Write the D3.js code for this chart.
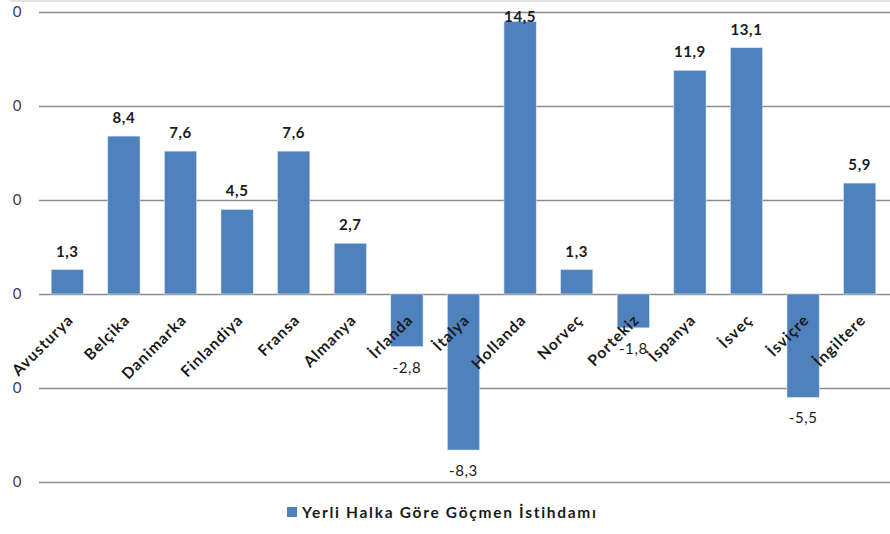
<!DOCTYPE html>
<html>
<head>
<meta charset="utf-8">
<script src="https://cdn.jsdelivr.net/npm/d3@7"></script>
<style>
  body { margin: 0; background: #fff; }
  svg { display: block; font-family: Lato, "Open Sans", sans-serif; }
</style>
</head>
<body>
<svg id="chart" width="890" height="534"></svg>
<script>
// data
var categories = ["Avusturya", "Belçika", "Danimarka", "Finlandiya", "Fransa", "Almanya", "İrlanda",
    "İtalya", "Hollanda", "Norveç", "Portekiz", "İspanya", "İsveç", "İsviçre", "İngiltere"];
var values = [1.3, 8.4, 7.6, 4.5, 7.6, 2.7, -2.8, -8.3, 14.5, 1.3, -1.8, 11.9, 13.1, -5.5, 5.9];
var yTicks = [15, 10, 5, 0, -5, -10];
var seriesName = "Yerli Halka Göre Göçmen İstihdamı";

var svg = d3.select("#chart"),
    width = +svg.attr("width"),
    height = +svg.attr("height");

var tr = d3.formatLocale({ decimal: ",", thousands: ".", grouping: [3], currency: ["", ""], minus: "-" });
var fmt = tr.format(".1f");

var x = d3.scaleBand()
    .domain(categories)
    .range([39, 888])
    .paddingInner(0.43)
    .paddingOuter(0.215);

var y = d3.scaleLinear()
    .domain([-10, 15])
    .range([482, 12]);

// outer border (cut off in the picture)
svg.append("line")
    .attr("x1", 10).attr("x2", width)
    .attr("y1", 1).attr("y2", 1)
    .attr("stroke", "#c8c8c8");

// gridlines
svg.append("g")
    .selectAll("line")
    .data(yTicks)
    .enter().append("line")
    .attr("x1", 39).attr("x2", width)
    .attr("y1", function (d) { return Math.round(y(d)) + 0.5; })
    .attr("y2", function (d) { return Math.round(y(d)) + 0.5; })
    .attr("stroke", "#8c8c8c")
    .attr("stroke-width", 1.5);

// y tick labels, left part is cropped like in the source image
svg.append("clipPath").attr("id", "cropLeft")
    .append("rect").attr("x", 13).attr("y", 0).attr("width", 40).attr("height", height);

svg.append("g")
    .attr("clip-path", "url(#cropLeft)")
    .selectAll("text")
    .data(yTicks)
    .enter().append("text")
    .attr("x", 21.5)
    .attr("y", function (d) { return y(d) + 5; })
    .attr("text-anchor", "end")
    .attr("fill", "#404040")
    .style("font-size", "15px")
    .text(function (d) { return fmt(d); });

// bars
svg.append("g")
    .selectAll("rect")
    .data(values)
    .enter().append("rect")
    .attr("x", function (d, i) { return x(categories[i]); })
    .attr("y", function (d) { return y(Math.max(d, 0)); })
    .attr("width", x.bandwidth())
    .attr("height", function (d) { return Math.abs(y(d) - y(0)); })
    .attr("fill", "#4f81bd")
    .attr("stroke", "#dce6f2")
    .attr("stroke-width", 0.6);

// category labels
svg.append("g")
    .selectAll("text")
    .data(categories)
    .enter().append("text")
    .attr("transform", function (d) {
        return "translate(" + (x(d) + x.bandwidth() / 2 + 7) + "," + (y(0) + 27) + ") rotate(-45)";
    })
    .attr("text-anchor", "end")
    .attr("fill", "#1a1a1a")
    .style("font-size", "15.5px")
    .style("font-weight", "bold")
    .style("letter-spacing", "1px")
    .text(function (d) { return d; });

// value labels
svg.append("g")
    .selectAll("text")
    .data(values)
    .enter().append("text")
    .attr("x", function (d, i) { return x(categories[i]) + x.bandwidth() / 2; })
    .attr("y", function (d) {
        return d >= 0 ? Math.max(y(d) - 13, 22) : y(d) + 26;
    })
    .attr("text-anchor", "middle")
    .attr("fill", "#1a1a1a")
    .style("font-size", "15px")
    .style("font-weight", function (d) { return d >= 0 ? "bold" : "normal"; })
    .style("letter-spacing", "0.6px")
    .text(function (d) { return fmt(d); });

// legend
var legend = svg.append("g").attr("transform", "translate(287,507)");
legend.append("rect")
    .attr("width", 10).attr("height", 10)
    .attr("fill", "#4f81bd");
legend.append("text")
    .attr("x", 15).attr("y", 11)
    .attr("fill", "#1a1a1a")
    .style("font-size", "15.5px")
    .style("font-weight", "bold")
    .style("letter-spacing", "1.7px")
    .text(seriesName);
</script>
</body>
</html>
